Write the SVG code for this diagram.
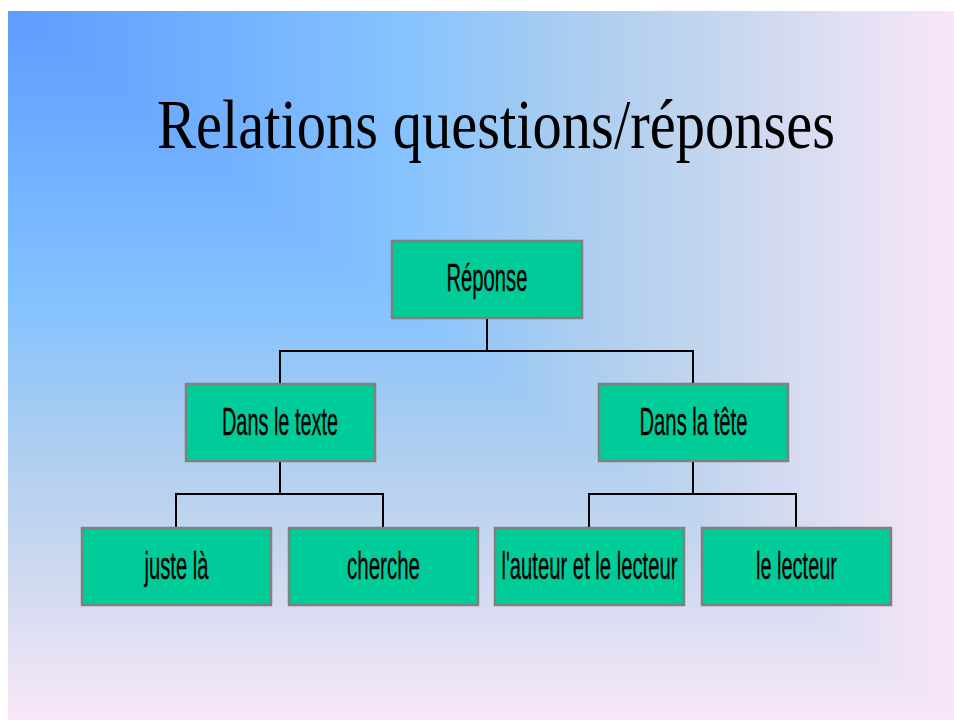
<svg xmlns="http://www.w3.org/2000/svg" width="954" height="720" viewBox="0 0 954 720">
  <defs>
    <linearGradient id="gx" gradientUnits="userSpaceOnUse" x1="8" y1="0" x2="954" y2="0">
      <stop offset="0" stop-color="#5E9CFF"/>
      <stop offset="0.2" stop-color="#70AEFF"/>
      <stop offset="0.42" stop-color="#86C3FF"/>
      <stop offset="0.6" stop-color="#ABCDF0"/>
      <stop offset="0.75" stop-color="#C5D6EE"/>
      <stop offset="0.88" stop-color="#E0DFF3"/>
      <stop offset="1" stop-color="#F9E6F8"/>
    </linearGradient>
    <linearGradient id="gy" gradientUnits="userSpaceOnUse" x1="0" y1="11" x2="0" y2="720">
      <stop offset="0" stop-color="#5E9CFF"/>
      <stop offset="0.2" stop-color="#70AEFF"/>
      <stop offset="0.42" stop-color="#86C3FF"/>
      <stop offset="0.6" stop-color="#ABCDF0"/>
      <stop offset="0.75" stop-color="#C5D6EE"/>
      <stop offset="0.88" stop-color="#E0DFF3"/>
      <stop offset="1" stop-color="#F9E6F8"/>
    </linearGradient>
  </defs>
  <style>
    .box { fill: #00CC99; stroke: #808080; stroke-width: 2.5; }
    .lbl { font-family: "Liberation Sans", Arial, sans-serif; font-size: 39px; fill: #000; text-anchor: middle; stroke: #000; stroke-width: 0.3; }
    .title { font-family: "Liberation Serif", "Times New Roman", serif; font-size: 70px; fill: #000; text-anchor: middle; }
    .conn line { stroke: #000; stroke-width: 2; }
  </style>
  <rect x="0" y="0" width="954" height="720" fill="#FFFFFF"/>
  <rect x="8" y="11" width="946" height="709" fill="url(#gy)"/>
  <polygon points="8,11 954,11 954,720" fill="url(#gx)"/>

  <text class="title" x="496" y="148" textLength="678" lengthAdjust="spacingAndGlyphs">Relations questions/réponses</text>

  <g id="connectors" class="conn">
    <line x1="487" y1="318" x2="487" y2="351"/>
    <line x1="279" y1="351" x2="694" y2="351"/>
    <line x1="280" y1="351" x2="280" y2="384"/>
    <line x1="693" y1="351" x2="693" y2="384"/>
    <line x1="280" y1="461" x2="280" y2="494"/>
    <line x1="175" y1="494" x2="384" y2="494"/>
    <line x1="176" y1="494" x2="176" y2="527"/>
    <line x1="383" y1="494" x2="383" y2="527"/>
    <line x1="693" y1="461" x2="693" y2="494"/>
    <line x1="588" y1="494" x2="797" y2="494"/>
    <line x1="589" y1="494" x2="589" y2="527"/>
    <line x1="796" y1="494" x2="796" y2="527"/>
  </g>

  <g id="reponse">
    <rect class="box" x="392" y="241" width="190" height="77"/>
    <text class="lbl" x="487" y="291" textLength="81" lengthAdjust="spacingAndGlyphs">Réponse</text>
  </g>
  <g id="dans-le-texte">
    <rect class="box" x="186" y="384" width="189" height="77"/>
    <text class="lbl" x="280" y="435" textLength="116" lengthAdjust="spacingAndGlyphs">Dans le texte</text>
  </g>
  <g id="dans-la-tete">
    <rect class="box" x="599" y="384" width="189" height="77"/>
    <text class="lbl" x="693.5" y="435" textLength="108" lengthAdjust="spacingAndGlyphs">Dans la tête</text>
  </g>
  <g id="juste-la">
    <rect class="box" x="82" y="528" width="189" height="77"/>
    <text class="lbl" x="176.5" y="579" textLength="64" lengthAdjust="spacingAndGlyphs">juste là</text>
  </g>
  <g id="cherche">
    <rect class="box" x="289" y="528" width="189" height="77"/>
    <text class="lbl" x="383.5" y="579" textLength="73" lengthAdjust="spacingAndGlyphs">cherche</text>
  </g>
  <g id="auteur-lecteur">
    <rect class="box" x="495" y="528" width="189" height="77"/>
    <text class="lbl" x="589.5" y="579" textLength="176" lengthAdjust="spacingAndGlyphs">l'auteur et le lecteur</text>
  </g>
  <g id="le-lecteur">
    <rect class="box" x="702" y="528" width="189" height="77"/>
    <text class="lbl" x="796.5" y="579" textLength="81" lengthAdjust="spacingAndGlyphs">le lecteur</text>
  </g>
</svg>
